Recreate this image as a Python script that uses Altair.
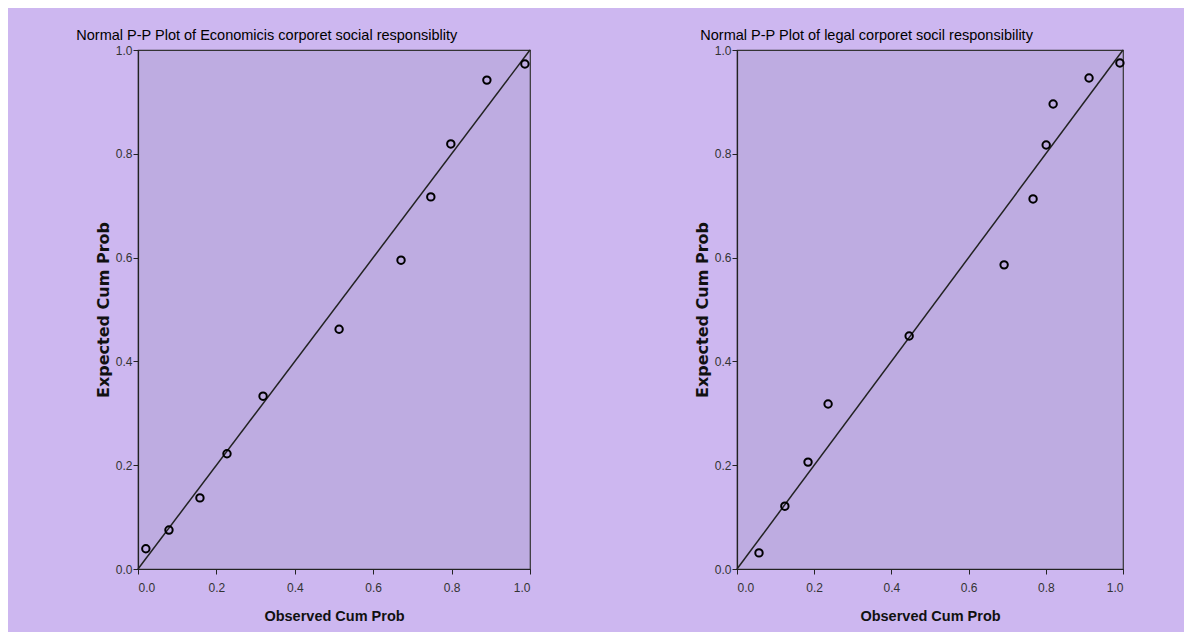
import altair as alt
import pandas as pd

# Observed vs expected cumulative probabilities
econ_obs = [0.020, 0.079, 0.158, 0.227, 0.319, 0.513, 0.671, 0.747, 0.798, 0.890, 0.987]
econ_exp = [0.039, 0.075, 0.137, 0.222, 0.333, 0.462, 0.595, 0.717, 0.819, 0.942, 0.973]
legal_obs = [0.057, 0.124, 0.184, 0.236, 0.446, 0.692, 0.767, 0.801, 0.819, 0.912, 0.992]
legal_exp = [0.031, 0.121, 0.206, 0.318, 0.449, 0.586, 0.713, 0.817, 0.896, 0.946, 0.975]
diag = [0.0, 1.0]
ticks = [0.0, 0.2, 0.4, 0.6, 0.8, 1.0]

titles = [
    "Normal P-P Plot of Economicis corporet social responsiblity",
    "Normal P-P Plot of legal corporet socil responsibility",
]

FONT = "Liberation Sans, Arial, sans-serif"


def panel(obs, exp, title, w, dx):
    pts = pd.DataFrame({"obs": obs, "exp": exp})
    line = pd.DataFrame({"obs": diag, "exp": diag})
    xax = alt.Axis(values=ticks, format=".1f", title="Observed Cum Prob",
                   grid=False, tickSize=5, labelPadding=8, titlePadding=16)
    yax = alt.Axis(values=ticks, format=".1f", title="Expected Cum Prob",
                   grid=False, tickSize=5, labelPadding=1, titlePadding=4,
                   titleFont="DejaVu Sans", titleFontSize=16)
    xs = alt.Scale(domain=[0, 1], nice=False)
    ys = alt.Scale(domain=[0, 1], nice=False)
    ln = alt.Chart(line).mark_line(color="#222222", strokeWidth=1.5).encode(
        x=alt.X("obs:Q", scale=xs, axis=xax),
        y=alt.Y("exp:Q", scale=ys, axis=yax),
    )
    pt = alt.Chart(pts).mark_point(shape="circle", filled=False, size=55,
                                   strokeWidth=2, color="#000000", opacity=1).encode(
        x=alt.X("obs:Q", scale=xs, axis=xax),
        y=alt.Y("exp:Q", scale=ys, axis=yax),
    )
    return alt.layer(ln, pt).properties(
        width=w, height=519,
        title=alt.TitleParams(title, anchor="start", dx=dx, offset=1,
                              font=FONT, fontSize=14.5, fontWeight="normal",
                              color="#000000"),
    )


left = panel(econ_obs, econ_exp, titles[0], 392, -19)
right = panel(legal_obs, legal_exp, titles[1], 386, 6)

chart = alt.hconcat(left, right, spacing=159).properties(
    background="#CDB7F0",
    padding={"left": 67, "top": 18, "right": 55, "bottom": 8},
).configure_view(
    fill="#BEACE1", stroke="#333333", strokeWidth=1.2
).configure_axis(
    domainColor="#222222", tickColor="#222222", domainWidth=1.2,
    labelFont=FONT, labelFontSize=12, labelColor="#333333",
    titleFont=FONT, titleFontSize=14.5, titleFontWeight="bold", titleColor="#111111",
)

chart.save("out.html", embed_options={"renderer": "svg", "actions": False})
